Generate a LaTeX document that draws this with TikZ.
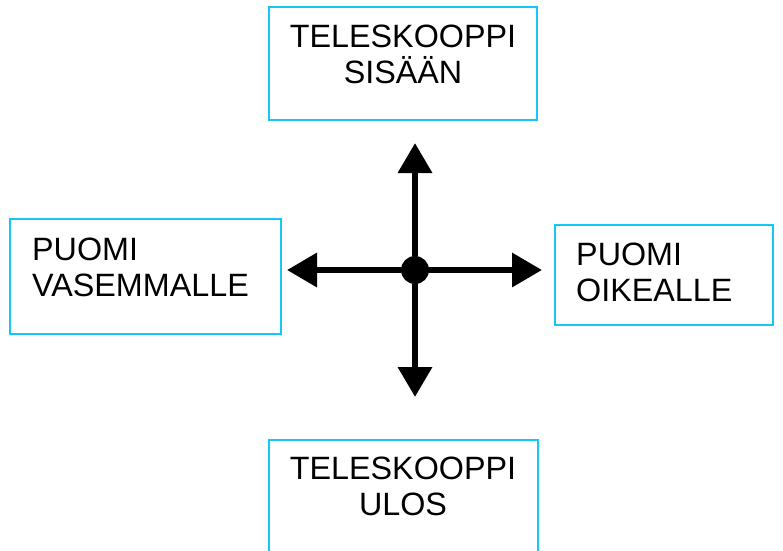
\documentclass[tikz,border=0pt]{standalone}
\usepackage{fontspec}
\setmainfont{Liberation Sans}
\usetikzlibrary{arrows.meta}
\definecolor{boxcyan}{RGB}{20,200,245}
\tikzset{
  box/.style={draw=boxcyan, line width=2pt, rectangle, inner sep=0pt},
  lbl/.style={inner sep=0pt, font=\fontsize{32.3}{36}\selectfont},
  arr/.style={line width=6.5pt, -{Triangle[length=30pt,width=33pt]}},
}
\begin{document}
\begin{tikzpicture}[x=1pt,y=-1pt]
\clip (0,0) rectangle (783,550);
\fill[white] (0,0) rectangle (783,550);
% boxes
\node[box, minimum width=268pt, minimum height=113pt] (top) at (403,63.5) {};
\node[box, minimum width=271pt, minimum height=115pt] (left) at (145.5,276.5) {};
\node[box, minimum width=218pt, minimum height=100pt] (right) at (664,275) {};
\node[box, minimum width=269pt, minimum height=130pt] (bottom) at (403.5,505) {};
% labels
\node[lbl, anchor=north, align=center] (ttop) at (403,25) {TELESKOOPPI\\SISÄÄN};
\node[lbl, anchor=north west, align=left] (tleft) at (32,237.5) {PUOMI\\VASEMMALLE};
\node[lbl, anchor=north west, align=left] (tright) at (576,242.5) {PUOMI\\OIKEALLE};
\node[lbl, anchor=north, align=center] (tbottom) at (403,457) {TELESKOOPPI\\ULOS};
% cross
\node[circle, fill=black, minimum size=28pt, inner sep=0pt] (c) at (415,270) {};
\coordinate (nt) at (415,143);
\coordinate (st) at (415,397);
\coordinate (wt) at (287,270);
\coordinate (et) at (542,270);
\draw[arr] (c) -- (nt);
\draw[arr] (c) -- (st);
\draw[arr] (c) -- (wt);
\draw[arr] (c) -- (et);
\end{tikzpicture}
\end{document}
